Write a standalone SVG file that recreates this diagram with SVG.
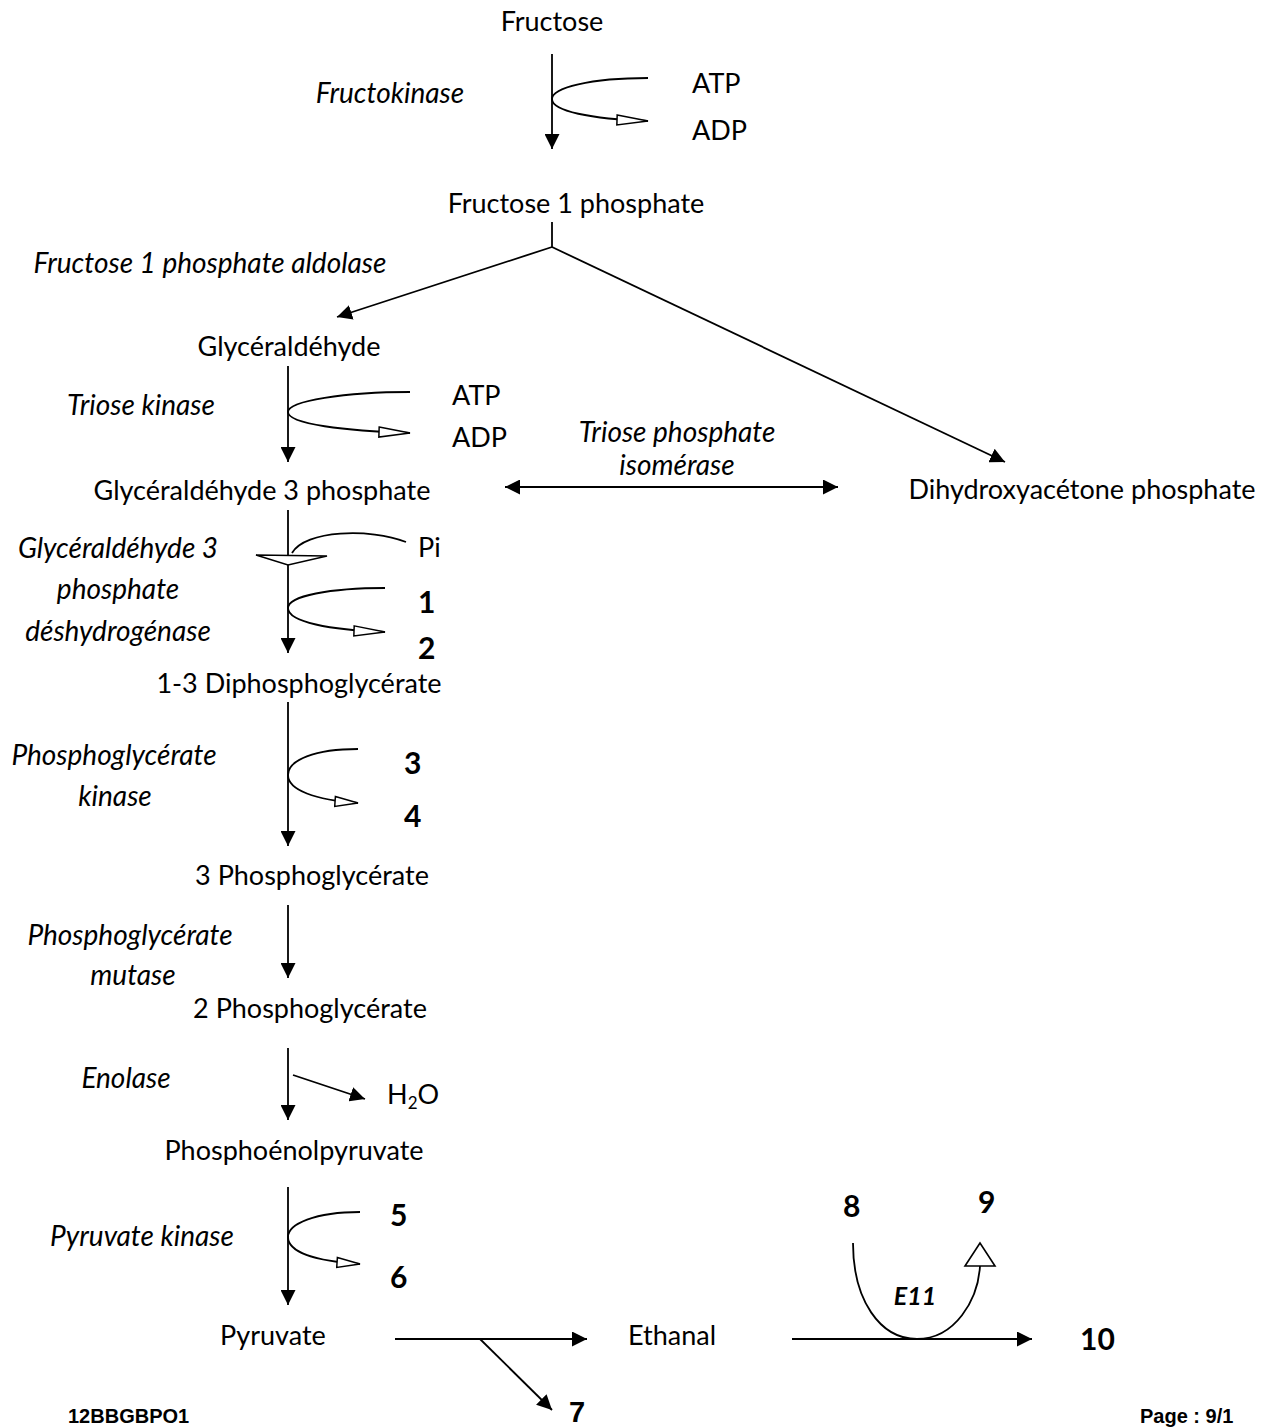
<svg xmlns="http://www.w3.org/2000/svg" width="1268" height="1427" viewBox="0 0 1268 1427">
<style>
text{font-family:Lato,"Liberation Sans",sans-serif;font-size:27px;fill:#000}
.c{text-anchor:middle}
.i{font-style:italic;font-size:28px}
.n{font-weight:bold;font-size:30px}
.ft{font-family:"Liberation Sans",Arial,sans-serif;font-weight:bold;font-size:20px}
.ln{fill:none;stroke:#000;stroke-width:1.8}
.a{marker-end:url(#fa)}
.o{marker-end:url(#oa)}
.os{marker-end:url(#os)}
.oh{fill:#fff;stroke:#000;stroke-width:1.6}
</style>
<defs>
<marker id="fa" viewBox="0 0 15 15" refX="15" refY="7.5" markerWidth="15" markerHeight="15" markerUnits="userSpaceOnUse" orient="auto-start-reverse"><path d="M0,0 L15,7.5 L0,15 z" fill="#000"/></marker>
<marker id="oa" viewBox="0 0 34 14" refX="32" refY="7" markerWidth="34" markerHeight="14" markerUnits="userSpaceOnUse" orient="auto"><path d="M1,2 L32,7 L1,12 z" fill="#fff" stroke="#000" stroke-width="1.5"/></marker>
<marker id="os" viewBox="0 0 26 14" refX="24" refY="7" markerWidth="26" markerHeight="14" markerUnits="userSpaceOnUse" orient="auto"><path d="M1,2 L24,7 L1,12 z" fill="#fff" stroke="#000" stroke-width="1.5"/></marker>
</defs>
<rect width="1268" height="1427" fill="#fff"/>

<g id="connectors">
<line class="ln a" x1="552" y1="54" x2="552" y2="149"/>
<path class="ln o" d="M648,78 C590,78 552,88 552,99 C552,111 590,119 648,121"/>
<line class="ln" x1="552" y1="222" x2="552" y2="247"/>
<line class="ln a" x1="552" y1="247" x2="337" y2="317"/>
<line class="ln a" x1="552" y1="247" x2="1005" y2="462"/>
<line class="ln a" x1="288" y1="366" x2="288" y2="462"/>
<path class="ln o" d="M410,392 C345,392 288,401 288,412 C288,424 345,431 410,433"/>
<line class="ln a" style="marker-start:url(#fa)" x1="505" y1="487" x2="838" y2="487"/>
<line class="ln a" x1="288" y1="510" x2="288" y2="653"/>
<path class="ln" d="M406,542 C370,528 305,530 292,553"/>
<polygon class="oh" points="256,555 327,556 288,565"/>
<path class="ln o" d="M385,588 C330,588 288,596 288,608 C288,622 330,630 385,632"/>
<line class="ln a" x1="288" y1="702" x2="288" y2="846"/>
<path class="ln os" d="M358,749 C315,749 288,760 288,775 C288,790 315,800 358,803"/>
<line class="ln a" x1="288" y1="905" x2="288" y2="978"/>
<line class="ln a" x1="288" y1="1048" x2="288" y2="1120"/>
<line class="ln a" x1="293" y1="1075" x2="365" y2="1099"/>
<line class="ln a" x1="288" y1="1187" x2="288" y2="1305"/>
<path class="ln os" d="M360,1212 C315,1212 288,1224 288,1237 C288,1252 315,1261 360,1264"/>
<line class="ln a" x1="395" y1="1339" x2="587" y2="1339"/>
<line class="ln a" x1="480" y1="1339" x2="552" y2="1410"/>
<line class="ln a" x1="792" y1="1339" x2="1032" y2="1339"/>
<path class="ln" d="M853,1243 C853,1300 880,1339 917,1339 C955,1339 978,1300 980,1266"/>
<polygon class="oh" points="980,1243 965,1266 995,1266"/>
</g>

<g id="n-fructose"><text class="c" x="552" y="31">Fructose</text></g>
<g id="e-fructokinase"><text class="c i" x="390" y="103">Fructokinase</text></g>
<g id="n-atp1"><text x="692" y="93">ATP</text></g>
<g id="n-adp1"><text x="692" y="140">ADP</text></g>
<g id="n-f1p"><text class="c" x="576" y="213">Fructose 1 phosphate</text></g>
<g id="e-aldolase"><text class="c i" x="210" y="273">Fructose 1 phosphate aldolase</text></g>
<g id="n-glyceraldehyde"><text class="c" x="289" y="356">Glycéraldéhyde</text></g>
<g id="e-triose-kinase"><text class="c i" x="141" y="415">Triose kinase</text></g>
<g id="n-atp2"><text x="452" y="405">ATP</text></g>
<g id="n-adp2"><text x="452" y="447">ADP</text></g>
<g id="e-tpi"><text class="c i" x="677" y="442">Triose phosphate</text><text class="c i" x="677" y="475">isomérase</text></g>
<g id="n-g3p"><text class="c" x="262" y="500">Glycéraldéhyde 3 phosphate</text></g>
<g id="n-dhap"><text class="c" x="1082" y="499">Dihydroxyacétone phosphate</text></g>
<g id="e-g3pdh"><text class="c i" x="118" y="558">Glycéraldéhyde 3</text><text class="c i" x="118" y="599">phosphate</text><text class="c i" x="118" y="641">déshydrogénase</text></g>
<g id="n-pi"><text x="418" y="557">Pi</text></g>
<g id="n-1"><text class="n" x="418" y="613">1</text></g>
<g id="n-2"><text class="n" x="418" y="659">2</text></g>
<g id="n-13dpg"><text class="c" x="299" y="693">1-3 Diphosphoglycérate</text></g>
<g id="e-pgk"><text class="c i" x="114" y="765">Phosphoglycérate</text><text class="c i" x="115" y="806">kinase</text></g>
<g id="n-3"><text class="n" x="404" y="774">3</text></g>
<g id="n-4"><text class="n" x="404" y="827">4</text></g>
<g id="n-3pg"><text class="c" x="312" y="885">3 Phosphoglycérate</text></g>
<g id="e-pgm"><text class="c i" x="130" y="945">Phosphoglycérate</text><text class="c i" x="133" y="985">mutase</text></g>
<g id="n-2pg"><text class="c" x="310" y="1018">2 Phosphoglycérate</text></g>
<g id="e-enolase"><text class="c i" x="126" y="1088">Enolase</text></g>
<g id="n-h2o"><text x="387" y="1104">H<tspan font-size="17" dy="5">2</tspan><tspan dy="-5">O</tspan></text></g>
<g id="n-pep"><text class="c" x="294" y="1160">Phosphoénolpyruvate</text></g>
<g id="e-pk"><text class="c i" x="142" y="1246">Pyruvate kinase</text></g>
<g id="n-5"><text class="n" x="390" y="1226">5</text></g>
<g id="n-6"><text class="n" x="390" y="1288">6</text></g>
<g id="n-pyruvate"><text class="c" x="273" y="1345">Pyruvate</text></g>
<g id="n-7"><text class="ft" x="569" y="1422" style="font-size:29px">7</text></g>
<g id="n-ethanal"><text class="c" x="672" y="1345">Ethanal</text></g>
<g id="n-8"><text class="n" x="843" y="1217">8</text></g>
<g id="n-9"><text class="n" x="978" y="1213">9</text></g>
<g id="e-e11"><text class="c" x="915" y="1305" style="font-style:italic;font-weight:bold;font-size:25px">E11</text></g>
<g id="n-10"><text class="n" x="1080" y="1350">10</text></g>
<g id="footer"><text class="ft" x="68" y="1423">12BBGBPO1</text><text class="ft" x="1140" y="1423">Page : 9/1</text></g>
</svg>
